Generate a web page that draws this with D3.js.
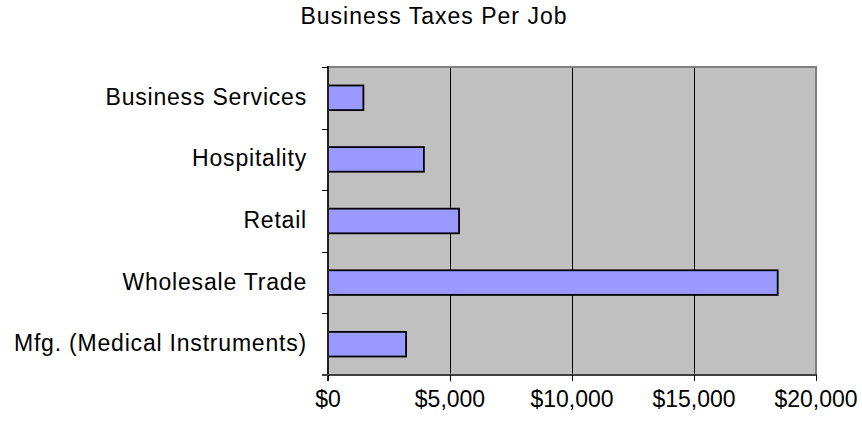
<!DOCTYPE html>
<html>
<head>
<meta charset="utf-8">
<script src="https://cdn.jsdelivr.net/npm/d3@7"></script>
<style>
  body { margin: 0; background: #fff; }
  text { font-family: "Liberation Sans", Arial, sans-serif; fill: #000; }
  line { shape-rendering: crispEdges; }
</style>
</head>
<body>
<svg id="chart" width="862" height="425"></svg>
<script>
// data
var categories = ['Business Services', 'Hospitality', 'Retail', 'Wholesale Trade', 'Mfg. (Medical Instruments)'];
var taxesPerJob = [1450, 3930, 5370, 18430, 3200];
var xTicks = [0, 5000, 10000, 15000, 20000];

// plot area bounds
var PLOT_L = 328, PLOT_R = 816, PLOT_T = 67, PLOT_B = 375;
var FONT = '23px';

var svg = d3.select('#chart');

var x = d3.scaleLinear().domain([0, 20000]).range([PLOT_L, PLOT_R]);
var y = d3.scaleBand().domain(categories).range([PLOT_T, PLOT_B]).paddingInner(0.6).paddingOuter(0.3);
var yb = d3.scaleBand().domain(categories).range([PLOT_T, PLOT_B]);

// title
svg.append('text')
  .attr('x', 434).attr('y', 24)
  .attr('text-anchor', 'middle')
  .style('font-size', FONT)
  .style('letter-spacing', '1px')
  .text('Business Taxes Per Job');

// plot background
svg.append('rect')
  .attr('x', PLOT_L).attr('y', PLOT_T)
  .attr('width', PLOT_R - PLOT_L).attr('height', PLOT_B - PLOT_T)
  .attr('fill', '#c0c0c0');

// gridlines
svg.selectAll('.grid').data(xTicks.slice(1, -1)).enter()
  .append('line')
  .attr('x1', function(d){ return Math.round(x(d)) + 0.5; }).attr('x2', function(d){ return Math.round(x(d)) + 0.5; })
  .attr('y1', PLOT_T).attr('y2', PLOT_B)
  .attr('stroke', '#000').attr('stroke-width', 1);

// borders top / right
svg.append('line').attr('x1', PLOT_L).attr('x2', PLOT_R + 1).attr('y1', PLOT_T).attr('y2', PLOT_T)
  .attr('stroke', '#808080').attr('stroke-width', 2);
svg.append('line').attr('x1', PLOT_R).attr('x2', PLOT_R).attr('y1', PLOT_T).attr('y2', PLOT_B)
  .attr('stroke', '#808080').attr('stroke-width', 2);

// bars
svg.selectAll('.bar').data(categories).enter()
  .append('rect')
  .attr('class', 'bar')
  .attr('x', x(0))
  .attr('y', function(d){ return y(d); })
  .attr('width', function(d, i){ return x(taxesPerJob[i]) - x(0); })
  .attr('height', y.bandwidth())
  .attr('fill', '#9999ff')
  .attr('stroke', '#000').attr('stroke-width', 1.8);

// y axis
svg.append('line').attr('x1', PLOT_L).attr('x2', PLOT_L).attr('y1', PLOT_T - 1).attr('y2', PLOT_B + 6)
  .attr('stroke', '#202020').attr('stroke-width', 2);
var yTickPos = categories.map(function(d){ return yb(d); }).concat([PLOT_B]);
svg.selectAll('.ytick').data(yTickPos).enter()
  .append('line')
  .attr('x1', PLOT_L - 6).attr('x2', PLOT_L)
  .attr('y1', function(d){ return Math.round(d) + 0.5; }).attr('y2', function(d){ return Math.round(d) + 0.5; })
  .attr('stroke', '#000').attr('stroke-width', 1);
svg.selectAll('.ylab').data(categories).enter()
  .append('text')
  .attr('x', 307)
  .attr('y', function(d){ return yb(d) + yb.bandwidth() / 2 - 1; })
  .attr('dy', '0.35em')
  .attr('text-anchor', 'end')
  .style('font-size', FONT)
  .style('letter-spacing', '0.8px')
  .text(function(d){ return d; });

// x axis
svg.append('line').attr('x1', PLOT_L - 6).attr('x2', PLOT_R + 1).attr('y1', PLOT_B).attr('y2', PLOT_B)
  .attr('stroke', '#404040').attr('stroke-width', 2);
svg.selectAll('.xtick').data(xTicks).enter()
  .append('line')
  .attr('x1', function(d){ return Math.round(x(d)) + 0.5; }).attr('x2', function(d){ return Math.round(x(d)) + 0.5; })
  .attr('y1', PLOT_B).attr('y2', PLOT_B + 6)
  .attr('stroke', '#000').attr('stroke-width', 1);
var fmt = d3.format('$,');
svg.selectAll('.xlab').data(xTicks).enter()
  .append('text')
  .attr('x', function(d){ return x(d); })
  .attr('y', 407)
  .attr('text-anchor', 'middle')
  .style('font-size', FONT)
  .text(function(d){ return fmt(d); });
</script>
</body>
</html>
